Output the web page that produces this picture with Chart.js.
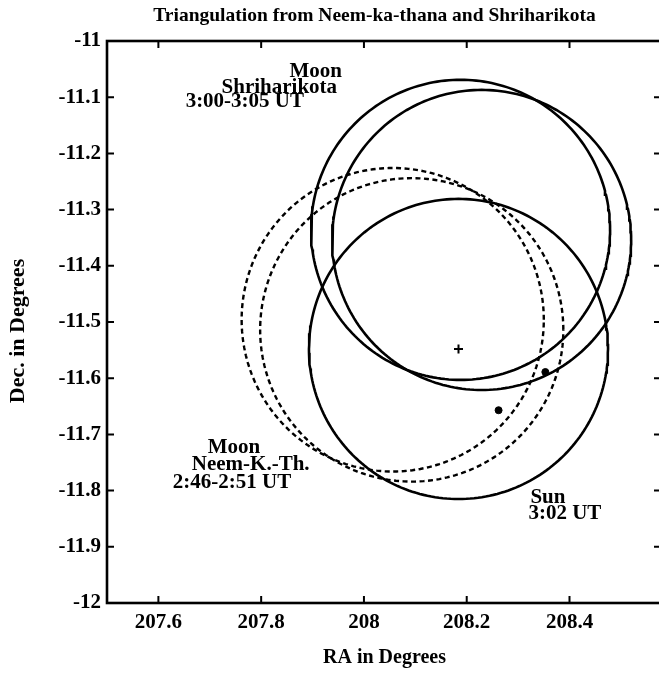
<!DOCTYPE html>
<html>
<head>
<meta charset="utf-8">
<script src="https://cdn.jsdelivr.net/npm/chart.js@4.4.0/dist/chart.umd.min.js"></script>
<style>
  html, body { margin: 0; padding: 0; background: #fff; overflow: hidden; }
  #wrap { width: 680px; height: 683px; }
</style>
</head>
<body>
<div id="wrap"><canvas id="chart" width="680" height="683"></canvas></div>
<script>
// circles: centre (RA, Dec) and radii, all in degrees
const circleNames = ['Moon Shriharikota 3:00', 'Moon Shriharikota 3:05', 'Sun 3:02', 'Moon Neem-ka-thana 2:46', 'Moon Neem-ka-thana 2:51'];
const circleRA = [208.188, 208.229, 208.184, 208.056, 208.093];
const circleDec = [-11.336, -11.354, -11.548, -11.496, -11.514];
const circleRadRA = [0.291, 0.291, 0.291, 0.294, 0.295];
const circleRadDec = [0.267, 0.267, 0.267, 0.270, 0.270];
const circleDashed = [false, false, false, true, true];

// marked points
const dotRA = [208.262, 208.353];
const dotDec = [-11.657, -11.589];
const centreRA = [208.184];
const centreDec = [-11.548];

// axis ticks
const xTicks = [207.6, 207.8, 208.0, 208.2, 208.4];
const xTickLabels = ['207.6', '207.8', '208', '208.2', '208.4'];
const yTicks = [-11, -11.1, -11.2, -11.3, -11.4, -11.5, -11.6, -11.7, -11.8, -11.9, -12];
const yTickLabels = ['-11', '-11.1', '-11.2', '-11.3', '-11.4', '-11.5', '-11.6', '-11.7', '-11.8', '-11.9', '-12'];

// text notes in the plot, anchored at the left of each line's baseline
const noteText = ['Moon', 'Shriharikota', '3:00-3:05 UT', 'Moon', 'Neem-K.-Th.', '2:46-2:51 UT', 'Sun', '3:02 UT'];
const noteRA = [207.855, 207.723, 207.653, 207.696, 207.665, 207.628, 208.324, 208.320];
const noteDec = [-11.064, -11.093, -11.117, -11.733, -11.763, -11.795, -11.822, -11.851];

const SERIF = '"Liberation Serif", "DejaVu Serif", serif';

function outline(i) {
    const pts = [];
    for (let k = 0; k <= 240; k++) {
        const a = (k / 240) * Math.PI * 2;
        pts.push({ x: circleRA[i] + circleRadRA[i] * Math.cos(a), y: circleDec[i] + circleRadDec[i] * Math.sin(a) });
    }
    return pts;
}

const datasets = circleNames.map((name, i) => ({
    label: name,
    data: outline(i),
    showLine: true,
    borderColor: '#000',
    borderWidth: circleDashed[i] ? 2.4 : 2.6,
    borderDash: circleDashed[i] ? [5, 3.5] : [],
    pointRadius: 0,
    fill: false,
    tension: 0
}));

datasets.push({
    label: 'points',
    data: dotRA.map((v, i) => ({ x: v, y: dotDec[i] })),
    pointRadius: 3.5,
    pointBackgroundColor: '#000',
    pointBorderColor: '#000',
    showLine: false
});

datasets.push({
    label: 'centre',
    data: centreRA.map((v, i) => ({ x: v, y: centreDec[i] })),
    pointStyle: 'cross',
    pointRadius: 4.5,
    pointBorderWidth: 2,
    pointBorderColor: '#000',
    showLine: false
});

// frame and inward ticks on all four sides
const framePlugin = {
    id: 'frame',
    afterDatasetsDraw(chart) {
        const { ctx, chartArea: a, scales: { x, y } } = chart;
        ctx.save();
        ctx.strokeStyle = '#000';
        ctx.lineWidth = 2.6;
        ctx.strokeRect(a.left, a.top, a.right - a.left, a.bottom - a.top);
        ctx.lineWidth = 2;
        ctx.beginPath();
        x.ticks.forEach(t => {
            const px = x.getPixelForValue(t.value);
            ctx.moveTo(px, a.bottom); ctx.lineTo(px, a.bottom - 7);
            ctx.moveTo(px, a.top); ctx.lineTo(px, a.top + 7);
        });
        y.ticks.forEach(t => {
            const py = y.getPixelForValue(t.value);
            ctx.moveTo(a.left, py); ctx.lineTo(a.left + 7, py);
            ctx.moveTo(a.right, py); ctx.lineTo(a.right - 8, py);
        });
        ctx.stroke();
        ctx.restore();
    }
};

const notesPlugin = {
    id: 'notes',
    afterDraw(chart) {
        const { ctx, chartArea: a, scales: { x, y } } = chart;
        ctx.save();
        ctx.fillStyle = '#000';
        ctx.textBaseline = 'alphabetic';
        ctx.textAlign = 'left';
        ctx.font = 'bold 21px ' + SERIF;
        noteText.forEach((t, i) => {
            ctx.fillText(t, x.getPixelForValue(noteRA[i]), y.getPixelForValue(noteDec[i]));
        });
        // title
        ctx.textAlign = 'center';
        ctx.textBaseline = 'middle';
        ctx.font = 'bold 19.5px ' + SERIF;
        ctx.fillText('Triangulation from Neem-ka-thana and Shriharikota', (a.left + a.right) / 2 - 10, 16);
        // y axis title, sits a little below the middle of the axis
        ctx.save();
        ctx.translate(18, (a.top + a.bottom) / 2 + 9);
        ctx.rotate(-Math.PI / 2);
        ctx.font = 'bold 22px ' + SERIF;
        ctx.fillText('Dec. in Degrees', 0, 0);
        ctx.restore();
        ctx.restore();
    }
};

new Chart(document.getElementById('chart'), {
    type: 'scatter',
    data: { datasets },
    options: {
        responsive: false,
        animation: false,
        devicePixelRatio: 1,
        layout: { padding: { left: 7, right: 18, top: 41, bottom: 13 } },
        plugins: {
            legend: { display: false },
            tooltip: { enabled: false },
            title: { display: false }
        },
        scales: {
            x: {
                type: 'linear',
                min: 207.5,
                max: 208.58,
                afterBuildTicks: s => { s.ticks = xTicks.map(v => ({ value: v })); },
                afterFit: s => { s.height = 67; },
                grid: { display: false, drawTicks: false },
                border: { display: false },
                ticks: {
                    color: '#000',
                    padding: 7,
                    maxRotation: 0,
                    font: { family: SERIF, size: 21, weight: 'bold' },
                    callback: (v, i) => xTickLabels[i]
                },
                title: {
                    display: true,
                    text: 'RA in Degrees',
                    color: '#000',
                    padding: 0,
                    font: { family: SERIF, size: 20, weight: 'bold' }
                }
            },
            y: {
                type: 'linear',
                min: -12,
                max: -11,
                afterBuildTicks: s => { s.ticks = yTicks.map(v => ({ value: v })); },
                afterFit: s => { s.width = 100; },
                grid: { display: false, drawTicks: false },
                border: { display: false },
                ticks: {
                    color: '#000',
                    padding: 6,
                    font: { family: SERIF, size: 21, weight: 'bold' },
                    callback: (v, i) => yTickLabels[i]
                },
                title: { display: false }
            }
        }
    },
    plugins: [framePlugin, notesPlugin]
});
</script>
</body>
</html>
